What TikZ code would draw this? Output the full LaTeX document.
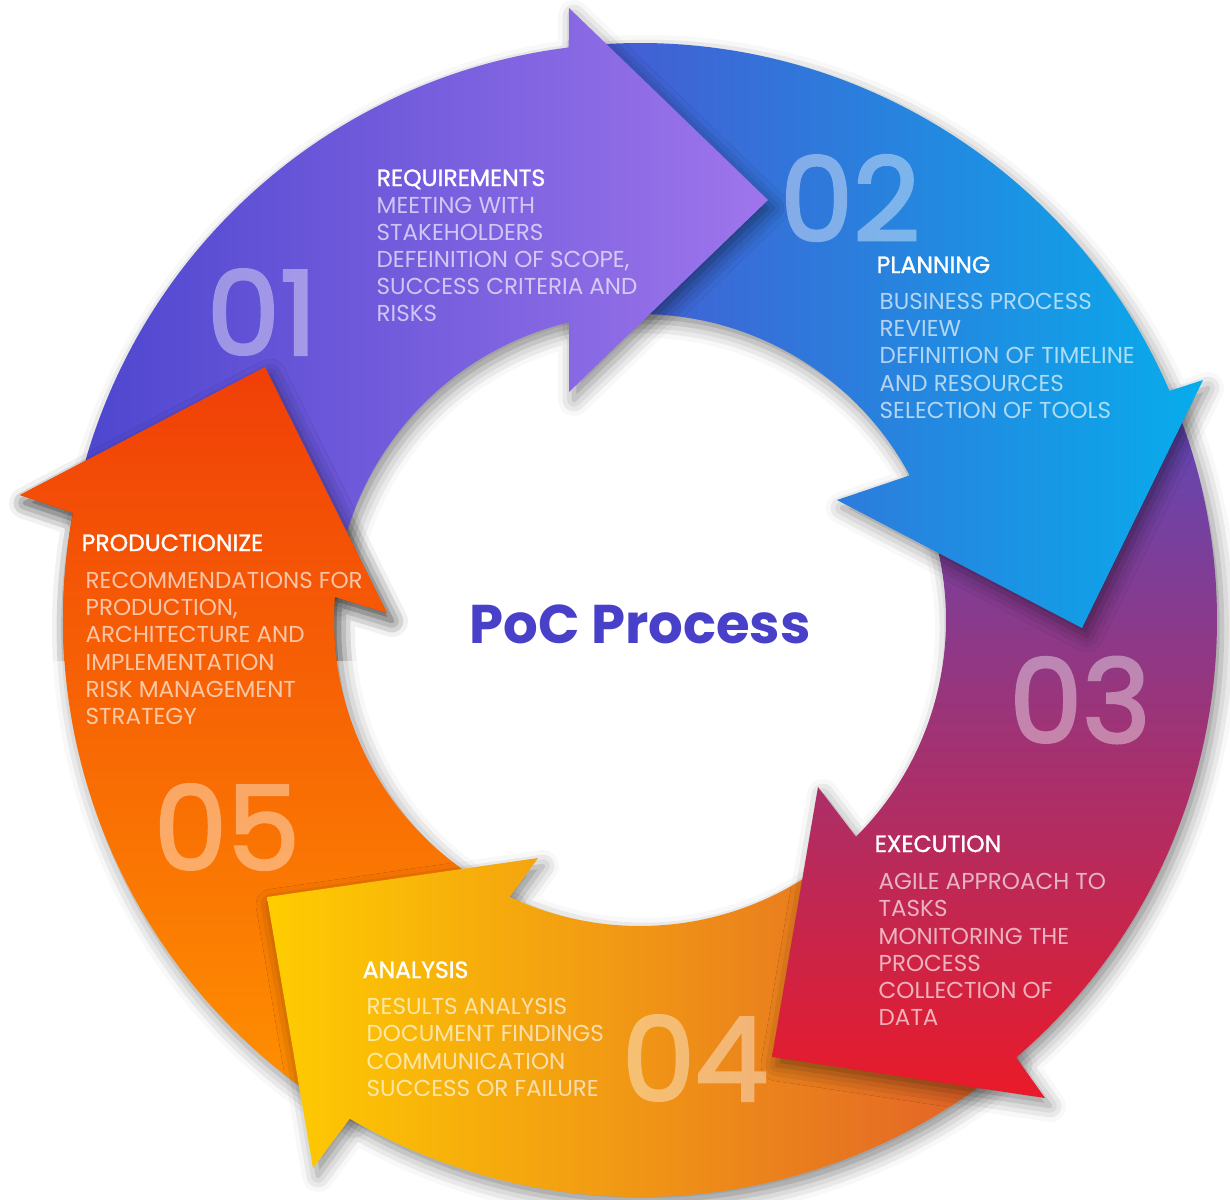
\documentclass[tikz,border=0pt]{standalone}
\usepackage{fontspec}
\setmainfont{Poppins}
\newfontfamily\headfont{Poppins}[FakeBold=1.2]
\newfontfamily\numfont{Poppins}[FakeBold=2.5]
\usetikzlibrary{calc,shadows.blur}

\definecolor{reqA}{RGB}{70,66,204}
\definecolor{reqB}{RGB}{160,118,236}
\definecolor{planA}{RGB}{74,86,208}
\definecolor{planB}{RGB}{6,174,236}
\definecolor{exeA}{RGB}{88,74,190}
\definecolor{exeM}{RGB}{152,56,130}
\definecolor{exeB}{RGB}{234,26,40}
\definecolor{anaA}{RGB}{255,206,0}
\definecolor{anaM}{RGB}{252,160,32}
\definecolor{anaB}{RGB}{224,88,44}
\definecolor{proA}{RGB}{240,62,8}
\definecolor{proB}{RGB}{255,146,0}
\definecolor{pocblue}{RGB}{72,64,200}

\begin{document}
\begin{tikzpicture}[x=0.01cm, y=-0.01cm,
    seg1/.style={path picture={\shade[left color=reqA, right color=reqB] (20,0) rectangle (780,640);}},
    seg2/.style={path picture={\shade[left color=planA, right color=planB] (560,0) rectangle (1215,640);}},
    seg3/.style={path picture={\shade[top color=exeA, middle color=exeM, bottom color=exeB] (760,380) rectangle (1230,1100);}},
    seg4/.style={path picture={\shade[left color=anaA, middle color=anaM, right color=anaB] (260,820) rectangle (1050,1199);}},
    seg5/.style={path picture={\shade[top color=proA, bottom color=proB] (0,360) rectangle (560,1110);}},
    segshadow/.style={blur shadow={shadow xshift=0.5mm, shadow yshift=-0.8mm, shadow blur radius=1.6mm, shadow opacity=45}},
    title/.style={font=\fontsize{6.7pt}{7.7pt}\selectfont\headfont, text=white, anchor=base west, inner sep=0pt},
    body/.style={font=\fontsize{6.55pt}{7.68pt}\selectfont, text=white, text opacity=0.65, align=left, anchor=north west, inner sep=0pt},
    num/.style={font=\fontsize{33pt}{33pt}\selectfont\numfont, text=white, inner sep=0pt}
]
\useasboundingbox (0,0) rectangle (1230,1199);

% Ring centre and arrow heads
\coordinate (O) at (640,620);
\coordinate (h1o) at (569,8);    \coordinate (h1t) at (768,200);  \coordinate (h1i) at (569,392);
\coordinate (h2o) at (1203,380); \coordinate (h2t) at (1082,628); \coordinate (h2i) at (837,500);
\coordinate (h3o) at (1045,1098);\coordinate (h3t) at (772,1057); \coordinate (h3i) at (818,787);
\coordinate (h4o) at (313,1168); \coordinate (h4t) at (267,897);  \coordinate (h4i) at (538,858);
\coordinate (h5o) at (20,495);   \coordinate (h5t) at (265,367);  \coordinate (h5i) at (387,613);

% Segments, last one first
\path[seg5, segshadow] ($(O)+(120.2:577)$) arc[start angle=120.2, end angle=190.7, radius=577]
    -- (h5o) -- (h5t) -- (h5i) -- ($(O)+(184.3:306)$) arc[start angle=184.3, end angle=115.2, radius=306] -- cycle;
\path[seg4, segshadow] ($(O)+(49.3:577)$) arc[start angle=49.3, end angle=120.2, radius=577]
    -- (h4o) -- (h4t) -- (h4i) -- ($(O)+(115.2:306)$) arc[start angle=115.2, end angle=45.1, radius=306] -- cycle;
\path[seg3, segshadow] ($(O)+(-23.4:577)$) arc[start angle=-23.4, end angle=49.3, radius=577]
    -- (h3o) -- (h3t) -- (h3i) -- ($(O)+(45.1:306)$) arc[start angle=45.1, end angle=-28.2, radius=306] -- cycle;
\path[seg2, segshadow] ($(O)+(-97.1:577)$) arc[start angle=-97.1, end angle=-23.4, radius=577]
    -- (h2o) -- (h2t) -- (h2i) -- ($(O)+(-28.2:306)$) arc[start angle=-28.2, end angle=-103.4, radius=306] -- cycle;
\path[seg1, segshadow] ($(O)+(-169.3:577)$) arc[start angle=-169.3, end angle=-97.1, radius=577]
    -- (h1o) -- (h1t) -- (h1i) -- ($(O)+(-103.4:306)$) arc[start angle=-103.4, end angle=-175.7, radius=306] -- cycle;

% Head of segment 5 again, over the start of segment 1
\begin{scope}
\clip (0,330) rectangle (430,660);
\path[seg5, segshadow] ($(O)+(120.2:577)$) arc[start angle=120.2, end angle=190.7, radius=577]
    -- (h5o) -- (h5t) -- (h5i) -- ($(O)+(184.3:306)$) arc[start angle=184.3, end angle=115.2, radius=306] -- cycle;
\end{scope}

% Numbers
\begin{scope}[transparency group, opacity=0.4]
\node[num] (n01) at (262,312) {01};
\node[num] (n02) at (850,198) {02};
\node[num] (n03) at (1080,700) {03};
\node[num] (n04) at (695,1058) {04};
\node[num] (n05) at (227,827) {05};
\end{scope}

% Requirements
\node[title] (reqtitle) at (376,186) {REQUIREMENTS};
\node[body] (reqtext) at (376,197) {MEETING WITH\\STAKEHOLDERS\\DEFEINITION OF SCOPE,\\SUCCESS CRITERIA AND\\RISKS};

% Planning
\node[title] (plantitle) at (876,273) {PLANNING};
\node[body] (plantext) at (879,293) {BUSINESS PROCESS\\REVIEW\\DEFINITION OF TIMELINE\\AND RESOURCES\\SELECTION OF TOOLS};

% Execution
\node[title] (exetitle) at (874,852) {EXECUTION};
\node[body] (exetext) at (878,873) {AGILE APPROACH TO\\TASKS\\MONITORING THE\\PROCESS\\COLLECTION OF\\DATA};

% Analysis
\node[title] (anatitle) at (362,978) {ANALYSIS};
\node[body] (anatext) at (366,998) {RESULTS ANALYSIS\\DOCUMENT FINDINGS\\COMMUNICATION\\SUCCESS OR FAILURE};

% Productionize
\node[title] (protitle) at (81,551) {PRODUCTIONIZE};
\node[body] (protext) at (85,572) {RECOMMENDATIONS FOR\\PRODUCTION,\\ARCHITECTURE AND\\IMPLEMENTATION\\RISK MANAGEMENT\\STRATEGY};

% Centre
\node[font=\fontsize{15.5pt}{15.5pt}\selectfont\bfseries, text=pocblue] (poc) at (640,624) {PoC Process};

\end{tikzpicture}
\end{document}
